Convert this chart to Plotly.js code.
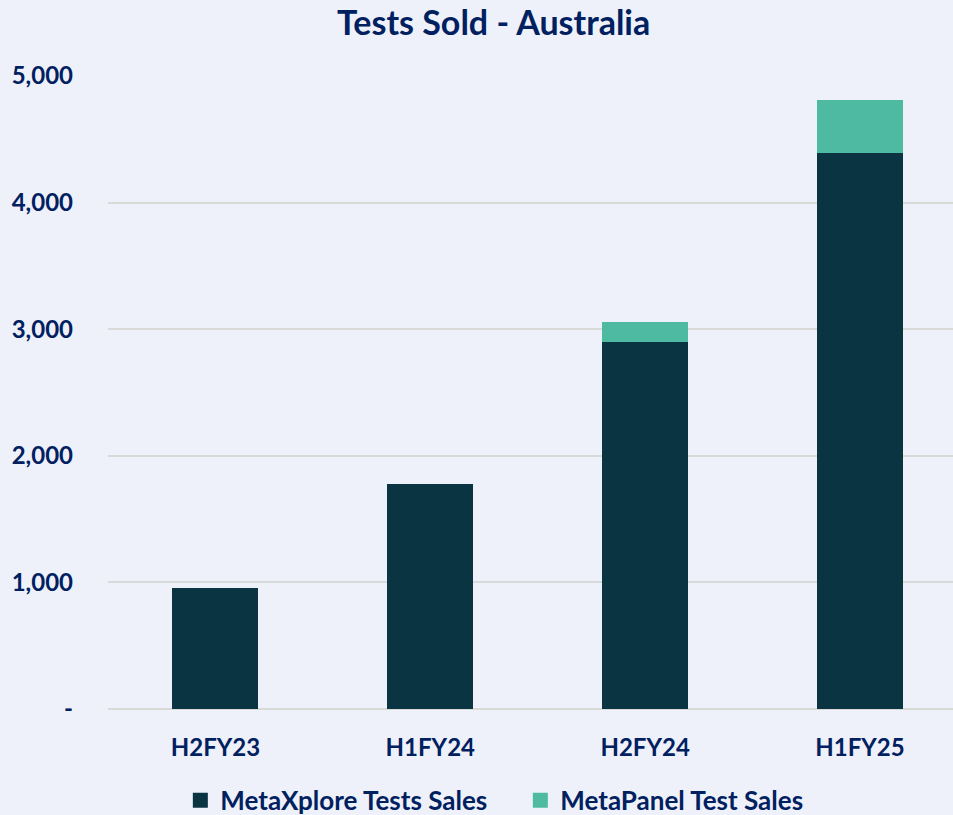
<!DOCTYPE html>
<html>
<head>
<meta charset="utf-8">
<script src="https://cdn.plot.ly/plotly-3.0.1.min.js"></script>
<style>html,body{margin:0;padding:0;background:#EEF1FA;}#chart{width:953px;height:815px;}</style>
</head>
<body>
<div id="chart"></div>
<script>
const categories = ["H2FY23", "H1FY24", "H2FY24", "H1FY25"];
const metaXplore = [955, 1780, 2900, 4390];
const metaPanel = [0, 0, 160, 420];
const seriesNames = ["MetaXplore Tests Sales", "MetaPanel Test Sales"];
const seriesColors = ["#0B3443", "#4EBAA1"];
const yTickVals = [0, 1000, 2000, 3000, 4000, 5000];
const yTickText = ["-", "1,000", "2,000", "3,000", "4,000", "5,000"];

const navy = "#002060";
const font = "Lato, 'Open Sans', sans-serif";

const data = [
  {type: "bar", name: seriesNames[0], x: categories, y: metaXplore,
   marker: {color: seriesColors[0]}, hoverinfo: "skip", showlegend: false},
  {type: "bar", name: seriesNames[1], x: categories, y: metaPanel,
   marker: {color: seriesColors[1]}, hoverinfo: "skip", showlegend: false},
  // legend entries with larger square swatches
  {type: "scatter", mode: "markers", name: "<b>" + seriesNames[0] + "</b>", x: [null], y: [null],
   marker: {symbol: "square", size: 15, color: seriesColors[0]}, showlegend: true},
  {type: "scatter", mode: "markers", name: "<b>" + seriesNames[1] + "</b>", x: [null], y: [null],
   marker: {symbol: "square", size: 15, color: seriesColors[1]}, showlegend: true}
];

const layout = {
  width: 953, height: 815,
  paper_bgcolor: "#EEF1FA", plot_bgcolor: "#EEF1FA",
  barmode: "stack", bargap: 0.6,
  margin: {l: 108, r: 0, t: 76, b: 106, autoexpand: false},
  font: {family: font, color: navy},
  title: {text: "<b>Tests Sold - Australia</b>", font: {size: 34, color: navy, family: font},
          x: 0.518, xanchor: "center", y: 0.972, yanchor: "middle", xref: "container", yref: "container"},
  xaxis: {type: "category", range: [-0.5, 3.433], showgrid: false, zeroline: false, showline: false,
          tickfont: {size: 24, color: navy, family: font}, ticks: "", ticklabelstandoff: 22,
          tickprefix: "<b>", ticksuffix: "</b>", fixedrange: true},
  yaxis: {range: [0, 5000], tickvals: yTickVals, ticktext: yTickText.map(t => "<b>" + t + "</b>"),
          showgrid: true, gridcolor: "#D9D9D9", gridwidth: 2, zeroline: true, zerolinecolor: "#D9D9D9", zerolinewidth: 2,
          showline: false, ticks: "", ticklabelstandoff: 34,
          tickfont: {size: 24, color: navy, family: font}, fixedrange: true},
  legend: {orientation: "h", x: 0.546, xanchor: "center", xref: "container",
           y: 0.018, yanchor: "middle", yref: "container",
           font: {size: 26, color: navy, family: font}, traceorder: "normal", itemwidth: 30,
           entrywidth: 295, entrywidthmode: "pixels",
           bgcolor: "rgba(0,0,0,0)"},
  showlegend: true
};

Plotly.newPlot("chart", data, layout, {displayModeBar: false, staticPlot: true});
</script>
</body>
</html>
